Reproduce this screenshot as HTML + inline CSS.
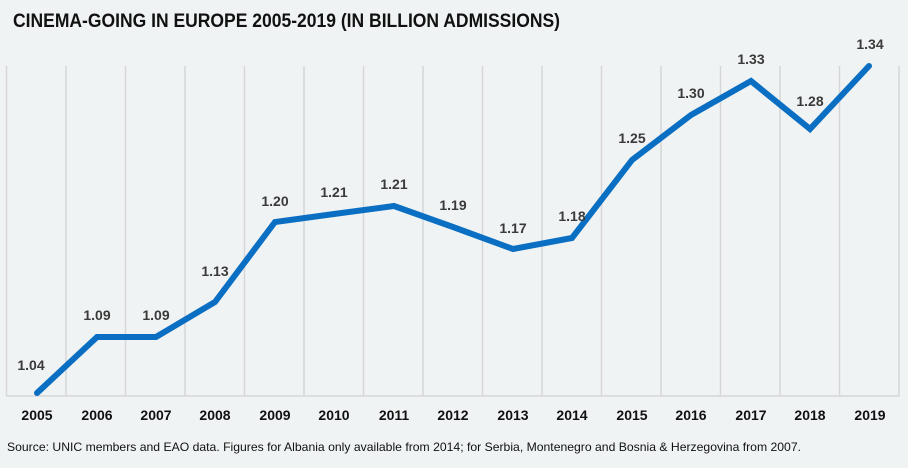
<!DOCTYPE html>
<html><head><meta charset="utf-8"><style>
html,body{margin:0;padding:0;background:#f0f3f4;}
svg{display:block;font-family:"Liberation Sans",Arial,sans-serif;}
</style></head><body>
<svg width="908" height="468" viewBox="0 0 908 468" xmlns="http://www.w3.org/2000/svg">
<rect width="908" height="468" fill="#f0f3f4"/>
<text x="13" y="27" font-size="19.5" font-weight="bold" fill="#111" textLength="547" lengthAdjust="spacingAndGlyphs">CINEMA-GOING IN EUROPE 2005-2019 (IN BILLION ADMISSIONS)</text>
<g stroke="#d6d6d8" stroke-width="1.5">
<line x1="6.5" y1="66" x2="6.5" y2="396"/><line x1="66" y1="66" x2="66" y2="396"/><line x1="125.5" y1="66" x2="125.5" y2="396"/><line x1="185" y1="66" x2="185" y2="396"/><line x1="244.5" y1="66" x2="244.5" y2="396"/><line x1="304" y1="66" x2="304" y2="396"/><line x1="363.5" y1="66" x2="363.5" y2="396"/><line x1="423" y1="66" x2="423" y2="396"/><line x1="482.5" y1="66" x2="482.5" y2="396"/><line x1="542" y1="66" x2="542" y2="396"/><line x1="601.5" y1="66" x2="601.5" y2="396"/><line x1="661" y1="66" x2="661" y2="396"/><line x1="720.5" y1="66" x2="720.5" y2="396"/><line x1="780" y1="66" x2="780" y2="396"/><line x1="839.5" y1="66" x2="839.5" y2="396"/><line x1="899" y1="66" x2="899" y2="396"/>
<line x1="6.5" y1="396" x2="899" y2="396"/>
</g>
<polyline fill="none" stroke="#0a6fc2" stroke-width="6" stroke-linejoin="miter" stroke-linecap="round" points="37,393 97,337 156,337 215,302 275,222 334,214 394,206 453,227 513,249 572,238 632,160 691,115 751,81 810,129 869,66"/>
<g font-size="14" font-weight="bold" fill="#3a3a3a" text-anchor="middle">
<text x="31" y="370">1.04</text><text x="97" y="320">1.09</text><text x="156" y="320">1.09</text><text x="215" y="276">1.13</text><text x="275" y="206">1.20</text><text x="334" y="197">1.21</text><text x="394" y="189">1.21</text><text x="453" y="210">1.19</text><text x="513" y="233">1.17</text><text x="572" y="221">1.18</text><text x="632" y="143">1.25</text><text x="691" y="98">1.30</text><text x="751" y="64">1.33</text><text x="810" y="106">1.28</text><text x="870" y="49">1.34</text>
</g>
<g font-size="14" font-weight="bold" fill="#111" text-anchor="middle">
<text x="37" y="420">2005</text><text x="97" y="420">2006</text><text x="156" y="420">2007</text><text x="215" y="420">2008</text><text x="275" y="420">2009</text><text x="334" y="420">2010</text><text x="394" y="420">2011</text><text x="453" y="420">2012</text><text x="513" y="420">2013</text><text x="572" y="420">2014</text><text x="632" y="420">2015</text><text x="691" y="420">2016</text><text x="751" y="420">2017</text><text x="810" y="420">2018</text><text x="870" y="420">2019</text>
</g>
<text x="7" y="451" font-size="12" fill="#111" textLength="794" lengthAdjust="spacingAndGlyphs">Source: UNIC members and EAO data. Figures for Albania only available from 2014; for Serbia, Montenegro and Bosnia &amp; Herzegovina from 2007.</text>
</svg>
</body></html>
